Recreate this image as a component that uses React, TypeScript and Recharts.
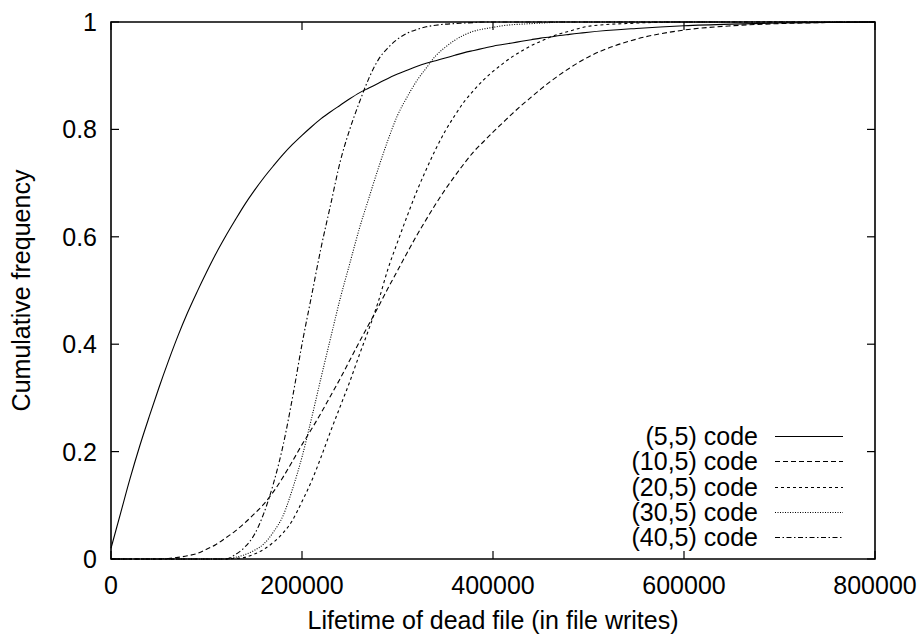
import React from 'react';
import { LineChart, Line, XAxis, YAxis, Legend, ReferenceArea } from 'recharts';

document.body.style.margin = '0';

const FONT = '"Liberation Sans", Arial, Helvetica, sans-serif';

// lifetime of dead file (file writes)
const XS = [
  0, 10000, 20000, 30000, 40000, 50000, 60000, 70000, 80000, 90000,
  100000, 110000, 120000, 130000, 140000, 150000, 160000, 170000, 180000, 190000,
  200000, 210000, 220000, 230000, 240000, 250000, 260000, 270000, 280000, 290000,
  300000, 310000, 320000, 330000, 340000, 350000, 360000, 370000, 380000, 390000,
  400000, 410000, 420000, 430000, 440000, 450000, 460000, 470000, 480000, 490000,
  500000, 550000, 600000, 650000, 700000, 750000, 800000,
];

// cumulative frequency per code
const CODE_5_5 = [
  0.02, 0.085, 0.15, 0.21, 0.265, 0.318, 0.368, 0.415, 0.458, 0.497,
  0.534, 0.569, 0.601, 0.631, 0.66, 0.686, 0.71, 0.732, 0.753, 0.772,
  0.789, 0.805, 0.82, 0.833, 0.845, 0.857, 0.868, 0.877, 0.886, 0.895,
  0.903, 0.91, 0.917, 0.923, 0.928, 0.933, 0.938, 0.943, 0.947, 0.951,
  0.955, 0.958, 0.961, 0.964, 0.967, 0.97, 0.972, 0.975, 0.977, 0.979,
  0.981, 0.988, 0.993, 0.996, 0.998, 0.999, 1.0,
];
const CODE_10_5 = [
  0, 0, 0, 0, 0, 0, 0.001, 0.003, 0.006, 0.01,
  0.018, 0.027, 0.039, 0.052, 0.067, 0.084, 0.102, 0.125, 0.152, 0.182,
  0.213, 0.242, 0.272, 0.304, 0.336, 0.37, 0.404, 0.437, 0.47, 0.504,
  0.537, 0.57, 0.602, 0.632, 0.661, 0.688, 0.713, 0.737, 0.759, 0.777,
  0.795, 0.812, 0.829, 0.845, 0.86, 0.875, 0.889, 0.902, 0.914, 0.925,
  0.935, 0.968, 0.985, 0.993, 0.997, 0.999, 1.0,
];
const CODE_20_5 = [
  0, 0, 0, 0, 0, 0, 0, 0, 0, 0,
  0, 0, 0, 0.001, 0.003, 0.009, 0.018, 0.031, 0.048, 0.072,
  0.107, 0.145, 0.19, 0.238, 0.284, 0.33, 0.38, 0.428, 0.48, 0.54,
  0.59, 0.638, 0.684, 0.725, 0.763, 0.797, 0.826, 0.852, 0.873, 0.892,
  0.908, 0.922, 0.935, 0.946, 0.956, 0.964, 0.972, 0.978, 0.983, 0.988,
  0.992, 0.998, 1.0, 1.0, 1.0, 1.0, 1.0,
];
const CODE_30_5 = [
  0, 0, 0, 0, 0, 0, 0, 0, 0, 0,
  0, 0, 0, 0.003, 0.008, 0.016, 0.028, 0.05, 0.08, 0.13,
  0.19, 0.262, 0.338, 0.412, 0.485, 0.55, 0.615, 0.672, 0.728, 0.78,
  0.826, 0.86, 0.89, 0.914, 0.937, 0.953, 0.966, 0.976, 0.983, 0.987,
  0.99, 0.993, 0.995, 0.996, 0.997, 0.998, 0.999, 1.0, 1.0, 1.0,
  1.0, 1.0, 1.0, 1.0, 1.0, 1.0, 1.0,
];
const CODE_40_5 = [
  0, 0, 0, 0, 0, 0, 0, 0, 0, 0,
  0, 0, 0, 0.008, 0.022, 0.045, 0.085, 0.14, 0.21, 0.3,
  0.4, 0.49, 0.58, 0.66, 0.74, 0.8, 0.85, 0.895, 0.93, 0.952,
  0.968, 0.979, 0.986, 0.991, 0.994, 0.996, 0.997, 0.998, 0.999, 1.0,
  1.0, 1.0, 1.0, 1.0, 1.0, 1.0, 1.0, 1.0, 1.0, 1.0,
  1.0, 1.0, 1.0, 1.0, 1.0, 1.0, 1.0,
];

const X_TICKS = [0, 200000, 400000, 600000, 800000];
const Y_TICKS = [0, 0.2, 0.4, 0.6, 0.8, 1];

const SERIES = [
  { key: 'c5', name: '(5,5) code', values: CODE_5_5, dash: undefined as string | undefined },
  { key: 'c10', name: '(10,5) code', values: CODE_10_5, dash: '5 3' },
  { key: 'c20', name: '(20,5) code', values: CODE_20_5, dash: '3 3' },
  { key: 'c30', name: '(30,5) code', values: CODE_30_5, dash: '1 1.5' },
  { key: 'c40', name: '(40,5) code', values: CODE_40_5, dash: '5 2.5 1.5 2.5' },
];

const data = XS.map((x, i) => {
  const row: Record<string, number> = { x };
  SERIES.forEach(s => { row[s.key] = s.values[i]; });
  return row;
});

// plot frame (gnuplot style box with inward ticks on all four sides)
const W = 920;
const H = 635;
const M = { top: 22, right: 45, bottom: 0, left: 0 };
const Y_AXIS_W = 111;
const X_AXIS_H = 76;
const PLOT_LEFT = M.left + Y_AXIS_W;
const PLOT_RIGHT = W - M.right;
const PLOT_TOP = M.top;
const PLOT_BOTTOM = H - M.bottom - X_AXIS_H;
const TICK = 8;

const XTick = ({ x, payload }: any) => (
  <g>
    <line x1={x} x2={x} y1={PLOT_BOTTOM} y2={PLOT_BOTTOM - TICK} stroke="#000" strokeWidth={1.2} />
    <line x1={x} x2={x} y1={PLOT_TOP} y2={PLOT_TOP + TICK} stroke="#000" strokeWidth={1.2} />
    <text x={x} y={PLOT_BOTTOM + 35} textAnchor="middle" fontSize={25} fontFamily={FONT} fill="#000">
      {String(payload.value)}
    </text>
  </g>
);

const YTick = ({ y, payload }: any) => (
  <g>
    <line x1={PLOT_LEFT} x2={PLOT_LEFT + TICK} y1={y} y2={y} stroke="#000" strokeWidth={1.2} />
    <line x1={PLOT_RIGHT} x2={PLOT_RIGHT - TICK} y1={y} y2={y} stroke="#000" strokeWidth={1.2} />
    <text x={PLOT_LEFT - 14} y={y + 9} textAnchor="end" fontSize={25} fontFamily={FONT} fill="#000">
      {String(payload.value)}
    </text>
  </g>
);

const XLabel = ({ viewBox }: any) => (
  <text x={viewBox.x + viewBox.width / 2} y={PLOT_BOTTOM + 70} textAnchor="middle"
    fontSize={25} fontFamily={FONT} fill="#000">
    Lifetime of dead file (in file writes)
  </text>
);

const YLabel = ({ viewBox }: any) => {
  const cx = 30;
  const cy = viewBox.y + viewBox.height / 2;
  return (
    <text x={cx} y={cy} transform={`rotate(-90 ${cx} ${cy})`} textAnchor="middle"
      fontSize={25} fontFamily={FONT} fill="#000">
      Cumulative frequency
    </text>
  );
};

const renderLegend = () => (
  <div style={{ fontFamily: FONT, fontSize: 25, color: '#000' }}>
    {SERIES.map(s => (
      <div key={s.key} style={{ display: 'flex', alignItems: 'center', height: 25.3 }}>
        <span style={{ width: 200, textAlign: 'right', lineHeight: '25px', whiteSpace: 'nowrap' }}>{s.name}</span>
        <svg width={86} height={25} style={{ display: 'block' }}>
          <line x1={17} x2={85} y1={12.5} y2={12.5} stroke="#000" strokeWidth={1.2} strokeDasharray={s.dash} />
        </svg>
      </div>
    ))}
  </div>
);

const App: React.FC = () => (
  <div style={{ width: W, height: H, background: '#fff' }}>
    <LineChart width={W} height={H} data={data} margin={M}>
      <XAxis xAxisId="bottom" dataKey="x" type="number" domain={[0, 800000]} ticks={X_TICKS}
        height={X_AXIS_H} tickSize={0} tickLine={false} axisLine={false} tick={<XTick />}
        interval={0} label={{ content: XLabel }} />
      <YAxis yAxisId="left" type="number" domain={[0, 1]} ticks={Y_TICKS}
        width={Y_AXIS_W} tickSize={0} tickLine={false} axisLine={false} tick={<YTick />}
        interval={0} label={{ content: YLabel }} />
      <ReferenceArea xAxisId="bottom" yAxisId="left" x1={0} x2={800000} y1={0} y2={1}
        fill="none" stroke="#000" strokeWidth={1.6} />
      {SERIES.map(s => (
        <Line key={s.key} xAxisId="bottom" yAxisId="left" type="monotone" dataKey={s.key} name={s.name}
          stroke="#000" strokeWidth={1.1} strokeDasharray={s.dash} dot={false} isAnimationActive={false} />
      ))}
      <Legend layout="vertical" align="center" verticalAlign="middle" content={renderLegend}
        wrapperStyle={{ left: 558, top: 424, width: 290, height: 130 }} />
    </LineChart>
  </div>
);

export default App;
